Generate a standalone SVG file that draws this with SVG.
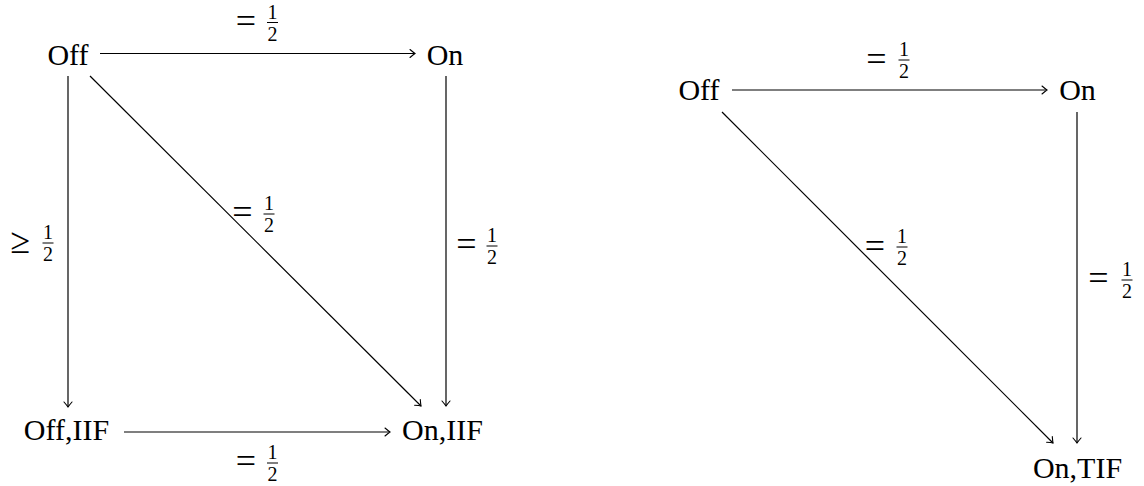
<svg xmlns="http://www.w3.org/2000/svg" width="1144" height="486" viewBox="0 0 1144 486">
<style>
.node{font-family:"Liberation Serif","Times New Roman",serif;font-size:30px;text-anchor:middle;fill:#000}
.eq{font-family:"Liberation Serif","Times New Roman",serif;font-size:36px;text-anchor:middle;fill:#000}
.dig{font-family:"Liberation Serif","Times New Roman",serif;font-size:20px;text-anchor:middle;fill:#000}
.bar{stroke:#000;stroke-width:1}
.edge{stroke:#000;stroke-width:1.2;fill:none;marker-end:url(#to)}
</style>
<defs>
<marker id="to" markerUnits="userSpaceOnUse" viewBox="-7 -5 8 10" refX="0" refY="0" markerWidth="8" markerHeight="10" orient="auto" overflow="visible">
<path d="M -5 -4 Q -1.5 -1 0 0 Q -1.5 1 -5 4" fill="none" stroke="#000" stroke-width="1.1" stroke-linecap="round"/>
</marker>
</defs>
<rect width="1144" height="486" fill="#fff"/>
<g id="connectors">
<line class="edge" x1="100" y1="53.5" x2="415" y2="53.5"/>
<line class="edge" x1="68" y1="76" x2="68" y2="407"/>
<line class="edge" x1="90" y1="76" x2="421" y2="406"/>
<line class="edge" x1="446" y1="76" x2="446" y2="406"/>
<line class="edge" x1="124" y1="432" x2="390" y2="432"/>
<line class="edge" x1="732" y1="90" x2="1047" y2="90"/>
<line class="edge" x1="722" y1="112" x2="1053" y2="443"/>
<line class="edge" x1="1077" y1="112" x2="1077" y2="443"/>
</g>
<g id="labels">
<g id="lab-top-left"><text class="eq" x="246" y="33">=</text><text class="dig" x="272.5" y="18.5">1</text><line class="bar" x1="267" y1="22.5" x2="278" y2="22.5"/><text class="dig" x="272.5" y="40.5">2</text></g>
<g id="lab-left"><text class="eq" x="20.5" y="253">≥</text><text class="dig" x="48" y="239">1</text><line class="bar" x1="42.5" y1="243" x2="53.5" y2="243"/><text class="dig" x="48" y="261">2</text></g>
<g id="lab-diag-left"><text class="eq" x="242.5" y="223.5">=</text><text class="dig" x="269" y="210">1</text><line class="bar" x1="263.5" y1="214" x2="274.5" y2="214"/><text class="dig" x="269" y="232">2</text></g>
<g id="lab-right-left"><text class="eq" x="466.5" y="255.5">=</text><text class="dig" x="492" y="242">1</text><line class="bar" x1="486.5" y1="246" x2="497.5" y2="246"/><text class="dig" x="492" y="264">2</text></g>
<g id="lab-bottom"><text class="eq" x="246" y="473">=</text><text class="dig" x="272.5" y="459">1</text><line class="bar" x1="267" y1="463" x2="278" y2="463"/><text class="dig" x="272.5" y="481">2</text></g>
<g id="lab-top-right"><text class="eq" x="876.5" y="70.5">=</text><text class="dig" x="904" y="56">1</text><line class="bar" x1="898.5" y1="60" x2="909.5" y2="60"/><text class="dig" x="904" y="78">2</text></g>
<g id="lab-diag-right"><text class="eq" x="875" y="258">=</text><text class="dig" x="902" y="243">1</text><line class="bar" x1="896.5" y1="247" x2="907.5" y2="247"/><text class="dig" x="902" y="265">2</text></g>
<g id="lab-right-right"><text class="eq" x="1098.5" y="289.5">=</text><text class="dig" x="1127" y="276">1</text><line class="bar" x1="1121.5" y1="280" x2="1132.5" y2="280"/><text class="dig" x="1127" y="298">2</text></g>
</g>
<g id="node-off-l"><text class="node" x="68" y="65">Off</text></g>
<g id="node-on-l"><text class="node" x="445" y="65">On</text></g>
<g id="node-offiif"><text class="node" x="66.5" y="440">Off,IIF</text></g>
<g id="node-oniif"><text class="node" x="442.5" y="440">On,IIF</text></g>
<g id="node-off-r"><text class="node" x="699" y="100">Off</text></g>
<g id="node-on-r"><text class="node" x="1077.5" y="100">On</text></g>
<g id="node-ontif"><text class="node" x="1077.5" y="478">On,TIF</text></g>
</svg>
